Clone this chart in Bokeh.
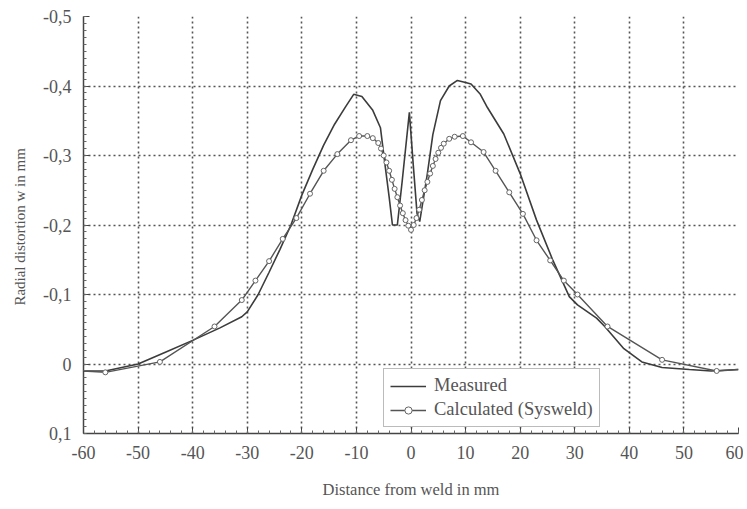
import numpy as np
from bokeh.plotting import figure
from bokeh.models import Range1d, FixedTicker, ColumnDataSource
from bokeh.embed import file_html
from bokeh.resources import INLINE

# ---- data ----
meas_x = [-60, -56, -50, -45, -40, -35, -31, -30, -28, -26, -24, -22, -20, -18, -16, -14,
          -12, -10.5, -9, -7, -5.6, -4.7, -4, -3.4, -2.5, -1.6, -0.3, 0.4, 1.1, 1.6, 3, 4,
          5.4, 7, 8.5, 10, 11, 12.7, 14, 17, 20, 23, 26, 29, 30.5, 34, 35.5, 39, 42.3, 46,
          51, 55, 60]
meas_y = [0.01, 0.01, 0.0, -0.017, -0.034, -0.052, -0.068, -0.075, -0.1, -0.132, -0.165,
          -0.2, -0.243, -0.28, -0.315, -0.345, -0.37, -0.388, -0.385, -0.365, -0.34,
          -0.283, -0.24, -0.2, -0.2, -0.264, -0.362, -0.288, -0.217, -0.205, -0.274, -0.33,
          -0.379, -0.4, -0.408, -0.405, -0.403, -0.388, -0.369, -0.331, -0.274, -0.207,
          -0.149, -0.097, -0.085, -0.066, -0.054, -0.022, -0.003, 0.005, 0.008, 0.01, 0.008]

calc_x = [-60, -56, -46, -36, -31, -28.5, -26, -23.5, -21, -18.5, -16, -13.5, -11, -9.5, -8,
          -7, -6, -5.5, -5, -4.5, -4, -3.5, -3, -2.5, -2, -1.5, -1, -0.5, 0, 0.5, 1, 1.5, 2,
          2.5, 3, 3.5, 4, 4.5, 5, 5.5, 6, 7, 8, 9.5, 11, 13.3, 15.5, 18, 20.5, 23, 25.5, 28,
          30.5, 36, 46, 56, 60]
calc_y = [0.01, 0.012, -0.003, -0.054, -0.092, -0.12, -0.148, -0.18, -0.21, -0.245, -0.278,
          -0.302, -0.322, -0.328, -0.328, -0.325, -0.318, -0.31, -0.3, -0.29, -0.278, -0.265,
          -0.252, -0.24, -0.228, -0.217, -0.207, -0.199, -0.193, -0.2, -0.21, -0.222, -0.236,
          -0.25, -0.262, -0.274, -0.285, -0.295, -0.304, -0.311, -0.317, -0.324, -0.327,
          -0.328, -0.319, -0.305, -0.278, -0.247, -0.216, -0.178, -0.149, -0.12, -0.1,
          -0.054, -0.006, 0.01, 0.008]
calc_marker_x = calc_x[1:-1]
calc_marker_y = calc_y[1:-1]

x_ticks = [-60, -50, -40, -30, -20, -10, 0, 10, 20, 30, 40, 50, 60]
x_tick_labels = ["-60", "-50", "-40", "-30", "-20", "-10", "0", "10", "20", "30", "40", "50", "60"]
y_ticks = [-0.5, -0.4, -0.3, -0.2, -0.1, 0.0, 0.1]
y_tick_labels = ["-0,5", "-0,4", "-0,3", "-0,2", "-0,1", "0", "0,1"]

FONT = "Liberation Serif"
TXT = "#555555"
LINE = "#3c3c3c"

p = figure(width=743, height=501, output_backend="svg", toolbar_location=None,
           x_range=Range1d(-60, 60), y_range=Range1d(0.1, -0.5),
           min_border_left=83, min_border_right=5, min_border_top=16, min_border_bottom=67)
p.outline_line_color = None
p.background_fill_color = "white"

p.xaxis.ticker = FixedTicker(ticks=x_ticks, minor_ticks=list(np.arange(-60, 60.1, 2)))
p.yaxis.ticker = FixedTicker(ticks=y_ticks, minor_ticks=list(np.round(np.arange(-0.5, 0.1001, 0.01), 3)))
p.xaxis.major_label_overrides = {v: s for v, s in zip(x_ticks, x_tick_labels)}
p.yaxis.major_label_overrides = {v: s for v, s in zip(y_ticks, y_tick_labels)}

for ax in (p.xaxis[0], p.yaxis[0]):
    ax.axis_line_color = "#444444"
    ax.axis_line_width = 1.5
    ax.major_tick_in = 6
    ax.major_tick_out = 0
    ax.minor_tick_in = 3
    ax.minor_tick_out = 0
    ax.major_tick_line_color = "#444444"
    ax.minor_tick_line_color = "#666666"
    ax.major_label_text_font = FONT
    ax.major_label_text_font_size = "18px"
    ax.major_label_text_color = TXT
    ax.axis_label_text_font = FONT
    ax.axis_label_text_font_style = "normal"
    ax.axis_label_text_color = TXT

p.xaxis.axis_label = "Distance from weld in mm"
p.yaxis.axis_label = "Radial distortion w  in mm"
p.xaxis.axis_label_text_font_size = "16.5px"
p.yaxis.axis_label_text_font_size = "15px"
p.xaxis.major_label_standoff = 12
p.xaxis.axis_label_standoff = 18
p.yaxis.major_label_standoff = 12
p.yaxis.axis_label_standoff = 12

for g in (p.xgrid[0], p.ygrid[0]):
    g.grid_line_color = "#555555"
    g.grid_line_width = 1.6
    g.grid_line_dash = "2 3"

src_m = ColumnDataSource(dict(x=meas_x, y=meas_y))
src_c = ColumnDataSource(dict(x=calc_x, y=calc_y))
src_cm = ColumnDataSource(dict(x=calc_marker_x, y=calc_marker_y))

p.line("x", "y", source=src_m, line_color=LINE, line_width=1.6, legend_label="Measured")
p.line("x", "y", source=src_c, line_color="#555555", line_width=1.4,
       legend_label="Calculated (Sysweld)")
p.scatter("x", "y", source=src_cm, marker="circle", size=5, fill_color="white",
          line_color="#666666", line_width=1, legend_label="Calculated (Sysweld)")

lg = p.legend[0]
lg.location = (300, 6)
lg.label_text_font = FONT
lg.label_text_font_size = "18.5px"
lg.label_text_color = TXT
lg.border_line_color = "#777777"
lg.border_line_width = 1
lg.background_fill_alpha = 1
lg.glyph_width = 36
lg.glyph_height = 18
lg.label_height = 18
lg.spacing = 3
lg.padding = 6
lg.margin = 0
lg.label_standoff = 8

html = file_html(p, INLINE)
open("out.html", "w").write(html)
